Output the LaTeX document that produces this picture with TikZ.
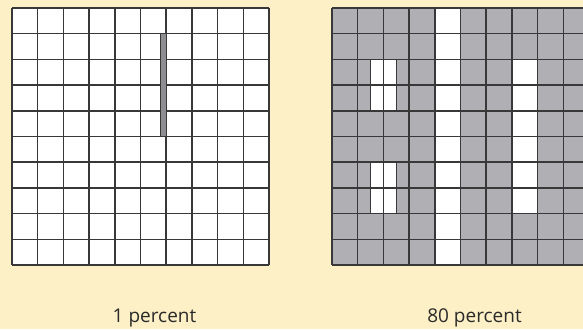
\documentclass[tikz,border=0pt]{standalone}
\usepackage{fontspec}
\setmainfont{Open Sans}
\definecolor{paper}{HTML}{FDF0C6}
\definecolor{cellgray}{HTML}{B0B0B4}
\definecolor{stripgray}{HTML}{8E8E92}
\definecolor{gridline}{HTML}{383838}
\definecolor{labeltext}{HTML}{2A2A2A}

\begin{document}
\begin{tikzpicture}[x=1pt, y=-1pt,
	gridpen/.style={draw=gridline, line width=1.5pt},
	caption/.style={anchor=base, text=labeltext, font=\fontsize{19}{22}\selectfont}]
	\useasboundingbox (0,0) rectangle (583,329);
	\fill[paper] (0,0) rectangle (583,329);
	\clip (0,0) rectangle (583,329);
	% 1 percent: one quarter-wide strip over four rows
	\begin{scope}[shift={(12,8)}, x=25.7pt, y=-25.7pt]
		\fill[white] (0,0) rectangle (10,10);
		\foreach \k in {0,...,10} {\draw[gridpen] (\k,0) -- (\k,10); \draw[gridpen] (0,\k) -- (10,\k);}
		\filldraw[fill=stripgray, draw=gridline, line width=1pt] (5.76,1) rectangle (6,5);
	\end{scope}
	% 80 percent: gray cells with white gaps
	\begin{scope}[shift={(332,8)}, x=25.7pt, y=-25.7pt]
		\fill[cellgray] (0,0) rectangle (10,10);
		\fill[white] (4,0) rectangle (5,10);
		\fill[white] (7,2) rectangle (8,8);
		\foreach \r in {2,6} {\fill[white] (1.5,\r) rectangle (2.5,\r+2);}
		\foreach \k in {0,...,10} {\draw[gridpen] (\k,0) -- (\k,10); \draw[gridpen] (0,\k) -- (10,\k);}
		\foreach \r in {2,6} {\draw[gridpen] (1.5,\r) rectangle (2.5,\r+2);}
	\end{scope}
	\node[caption] (lowlabel) at (154.5,322.5) {1 percent};
	\node[caption] (highlabel) at (474.5,322.5) {80 percent};
\end{tikzpicture}
\end{document}
